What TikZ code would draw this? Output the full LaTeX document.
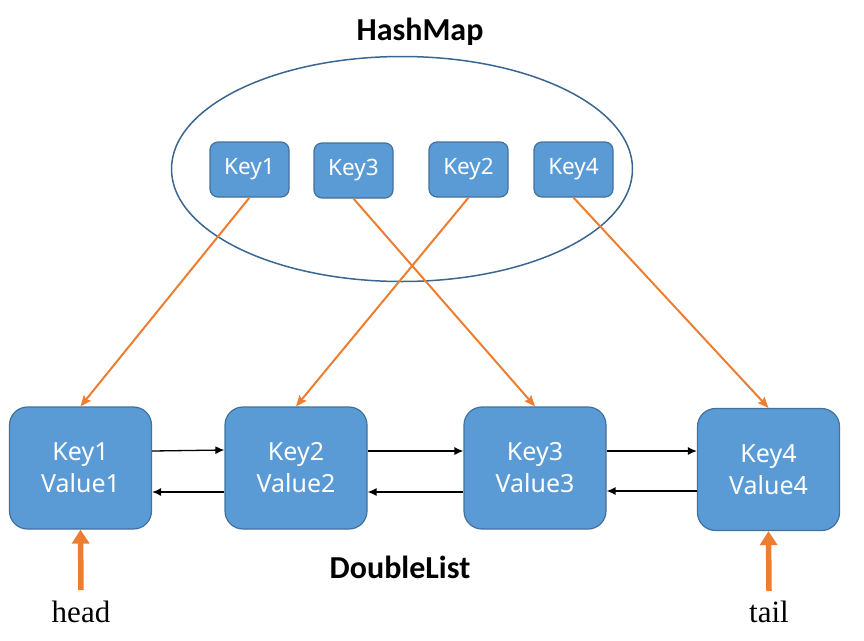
\documentclass[tikz,border=0pt]{standalone}
\usepackage{fontspec}
\setmainfont{Liberation Serif}
\newfontfamily\boxfont{Noto Sans}
\newfontfamily\titlefont{Carlito}
\usetikzlibrary{arrows.meta,shapes.geometric}
\definecolor{boxfill}{HTML}{5B9BD5}
\definecolor{boxline}{HTML}{41719C}
\definecolor{ellline}{HTML}{3A6690}
\definecolor{orng}{HTML}{ED7D31}
\tikzset{
  smallkey/.style={draw=boxline, line width=1.2pt, fill=boxfill, rounded corners=8pt,
    minimum width=79pt, minimum height=55pt, inner sep=0pt, text=white,
    font=\boxfont\fontsize{22.5}{27}\selectfont},
  bigbox/.style={draw=boxline, line width=1.2pt, fill=boxfill, rounded corners=18pt,
    minimum width=142pt, minimum height=122pt, inner sep=0pt, text=white, align=center,
    font=\boxfont\fontsize{25}{32}\selectfont},
  maparrow/.style={draw=orng, line width=2pt, -{Stealth[length=11pt,width=9pt,inset=2pt]}},
  linkarrow/.style={draw=black, line width=1.3pt, -{Latex[length=9pt,width=8pt]}},
  ptrarrow/.style={draw=orng, line width=5.5pt, -{Triangle[length=14pt,width=17pt]}},
  title/.style={font=\titlefont\bfseries\fontsize{32}{36}\selectfont},
  ptrlabel/.style={font=\fontsize{31}{36}\selectfont}
}
\begin{document}
\begin{tikzpicture}[x=1pt,y=-1pt]
\useasboundingbox (0,0) rectangle (864,640);
\node[title] (hm) at (420,32) {HashMap};
\node[draw=ellline, line width=1.5pt, ellipse, minimum width=461pt, minimum height=225pt, inner sep=0pt] (ell) at (402,169) {};
\node[smallkey] (k1) at (249.5,169.5) {Key1};
\node[smallkey] (k3) at (353.5,170.5) {Key3};
\node[smallkey] (k2) at (468.5,169.5) {Key2};
\node[smallkey] (k4) at (573.5,169.5) {Key4};
\node[bigbox] (b1) at (80.5,468) {Key1\\Value1};
\node[bigbox] (b2) at (296,468) {Key2\\Value2};
\node[bigbox] (b3) at (535,468) {Key3\\Value3};
\node[bigbox] (b4) at (768.5,469.5) {Key4\\Value4};
\node[title] (dl) at (400,567) {DoubleList};
\node[ptrlabel] (hd) at (81,612) {head};
\node[ptrlabel] (tl) at (769,612) {tail};
\draw[maparrow] (k1.south) -- (b1.north);
\draw[maparrow] (k2.south) -- (b2.north);
\draw[maparrow] (k3.south) -- (b3.north);
\draw[maparrow] (k4.south) -- (b4.north);
\draw[linkarrow] (b1.east |- 0,451) -- (b2.west |- 0,450);
\draw[linkarrow] (b2.west |- 0,492) -- (b1.east |- 0,492);
\draw[linkarrow] (b2.east |- 0,451) -- (b3.west |- 0,451);
\draw[linkarrow] (b3.west |- 0,492) -- (b2.east |- 0,492);
\draw[linkarrow] (b3.east |- 0,451) -- (b4.west |- 0,451);
\draw[linkarrow] (b4.west |- 0,491) -- (b3.east |- 0,491);
\coordinate (hs) at (81,590);
\coordinate (ts) at (769,591);
\draw[ptrarrow] (hs) -- (b1.south);
\draw[ptrarrow] (ts) -- (b4.south);
\end{tikzpicture}
\end{document}
